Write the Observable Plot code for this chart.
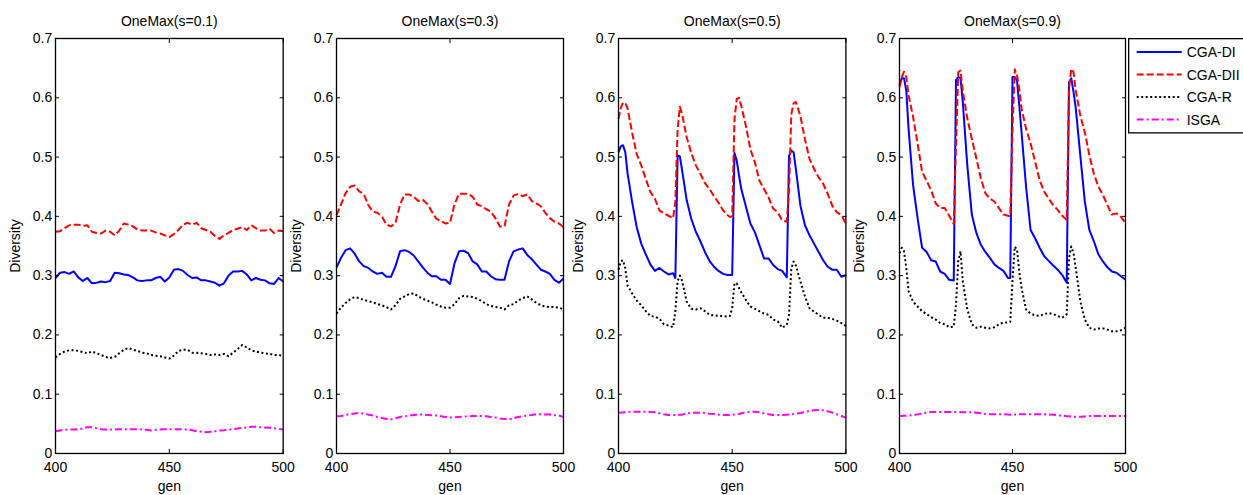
<!DOCTYPE html>
<html>
<head>
<meta charset="utf-8">
<script src="https://cdn.jsdelivr.net/npm/d3@7"></script>
<script src="https://cdn.jsdelivr.net/npm/@observablehq/plot@0.6"></script>
<style>
  html, body { margin: 0; padding: 0; background: #fff; }
  #wrap { position: relative; width: 1243px; height: 495px; overflow: hidden; background: #fff; }
  #wrap > svg, #wrap > figure { position: absolute; top: 0; margin: 0; }
</style>
</head>
<body>
<div id="wrap"></div>
<script>
// ---------- series meta ----------
const seriesNames = ["CGA-DI", "CGA-DII", "CGA-R", "ISGA"];
const seriesColors = ["#0000ff", "#ff0000", "#000000", "#ff00ff"];
const seriesDash = ["none", "7,3", "2,2.5", "7,3,2,3"];

const panelTitles = ["OneMax(s=0.1)", "OneMax(s=0.3)", "OneMax(s=0.5)", "OneMax(s=0.9)"];
const yTicks = [0, 0.1, 0.2, 0.3, 0.4, 0.5, 0.6, 0.7];
const xTicks = [400, 450, 500];
const xLabel = "gen";
const yLabel = "Diversity";

// ---------- generations ----------
const gens12 = [400,402,404,406,408,410,412,414,416,418,420,422,424,426,428,430,432,434,436,438,
  440,442,444,446,448,450,452,454,456,458,460,462,464,466,468,470,472,474,476,478,
  480,482,484,486,488,490,492,494,496,498,500];
const gens34 = [400,401,402,403,404,406,408,410,412,414,416,418,420,422,424,425,426,427,428,
  430,432,434,436,438,440,442,444,446,448,449,450,451,452,453,454,456,458,460,462,464,466,468,470,472,474,
  475,476,477,478,480,482,484,486,488,490,492,494,496,498,500];

// ---------- s = 0.1 ----------
const s01_DI = [.296,.305,.306,.303,.307,.297,.291,.296,.287,.288,
  .290,.289,.291,.305,.304,.302,.301,.297,.292,.291,
  .292,.292,.296,.298,.290,.297,.310,.311,.308,.301,
  .296,.297,.292,.292,.290,.288,.283,.287,.300,.307,
  .307,.308,.302,.292,.296,.293,.292,.287,.286,.296,.290];
const s01_DII = [.374,.375,.380,.385,.386,.386,.384,.385,.374,.372,
  .371,.376,.374,.368,.376,.388,.386,.383,.378,.376,
  .376,.376,.373,.371,.368,.365,.370,.377,.386,.389,
  .386,.389,.380,.377,.374,.367,.362,.368,.372,.377,
  .379,.382,.377,.385,.380,.376,.376,.379,.372,.376,.375];
const s01_R = [.162,.168,.172,.174,.174,.173,.171,.169,.172,.169,
  .166,.163,.161,.163,.169,.175,.178,.175,.173,.170,
  .169,.166,.165,.164,.162,.160,.165,.173,.175,.175,
  .170,.170,.169,.168,.166,.167,.166,.168,.164,.170,
  .176,.183,.179,.174,.172,.170,.169,.168,.166,.166,.165];
const s01_ISGA = [.0376,.0388,.0400,.0404,.0404,.0410,.0420,.0444,.0444,.0427,
  .0410,.0404,.0404,.0404,.0410,.0410,.0410,.0410,.0410,.0404,
  .0400,.0388,.0400,.0404,.0410,.0410,.0410,.0410,.0410,.0404,
  .0393,.0376,.0365,.0360,.0365,.0376,.0388,.0393,.0404,.0410,
  .0420,.0433,.0438,.0450,.0450,.0444,.0438,.0433,.0427,.0416,.0404];

// ---------- s = 0.3 ----------
const s03_DI = [.314,.330,.343,.346,.337,.324,.316,.313,.307,.303,
  .305,.298,.298,.316,.341,.343,.340,.334,.324,.314,
  .305,.299,.299,.293,.293,.286,.321,.341,.342,.338,
  .324,.319,.307,.307,.299,.294,.293,.293,.324,.341,
  .344,.346,.335,.328,.319,.310,.307,.303,.293,.288,.295];
const s03_DII = [.402,.420,.439,.450,.452,.442,.438,.419,.408,.406,
  .400,.386,.383,.389,.420,.437,.437,.433,.426,.428,
  .421,.408,.396,.392,.388,.389,.421,.438,.438,.438,
  .433,.420,.417,.412,.408,.397,.383,.383,.420,.435,
  .438,.434,.437,.426,.422,.417,.406,.397,.391,.388,.382];
const s03_R = [.236,.246,.254,.260,.264,.262,.259,.257,.255,.252,
  .250,.247,.243,.250,.261,.265,.269,.270,.265,.261,
  .258,.255,.251,.248,.246,.246,.252,.262,.266,.265,
  .264,.261,.257,.252,.249,.247,.246,.243,.250,.252,
  .258,.262,.265,.260,.254,.250,.248,.247,.247,.246,.243];
const s03_ISGA = [.0628,.0634,.0650,.0662,.0673,.0684,.0673,.0656,.0640,.0617,
  .0600,.0583,.0577,.0594,.0617,.0628,.0640,.0650,.0662,.0656,
  .0650,.0645,.0640,.0628,.0617,.0606,.0611,.0617,.0622,.0628,
  .0634,.0634,.0634,.0628,.0617,.0606,.0589,.0583,.0577,.0594,
  .0617,.0628,.0640,.0650,.0662,.0662,.0656,.0656,.0645,.0640,.0617];

// ---------- s = 0.5 ----------
const s05_DI = [.508,.518,.520,.508,.472,
  .424,.382,.354,.336,.319,.308,.313,.307,.302,.304,
  .296,.503,.501,.477,
  .427,.396,.374,.358,.340,.325,.315,.308,.303,.301,
  .301,.301,.507,.494,.469,.446,
  .417,.388,.373,.351,.329,.329,.318,.311,.308,.297,
  .502,.511,.508,.480,
  .418,.385,.368,.354,.340,.326,.315,.310,.310,.298,.301];
const s05_DII = [.564,.583,.592,.591,.582,
  .541,.505,.486,.463,.441,.430,.410,.405,.401,.397,
  .424,.547,.585,.572,
  .533,.507,.486,.472,.456,.446,.434,.423,.410,.402,
  .399,.400,.564,.598,.600,.586,
  .553,.513,.491,.460,.446,.432,.413,.407,.393,.391,
  .446,.572,.591,.593,
  .569,.530,.497,.480,.466,.455,.438,.418,.407,.402,.388];
const s05_R = [.310,.324,.326,.312,.283,
  .270,.258,.250,.240,.232,.231,.227,.218,.216,.213,
  .240,.291,.300,.291,
  .256,.244,.243,.245,.240,.234,.233,.232,.232,.231,
  .232,.245,.287,.287,.279,.272,
  .259,.248,.244,.240,.236,.234,.226,.223,.212,.217,
  .234,.312,.324,.317,
  .290,.265,.245,.239,.234,.229,.229,.227,.224,.220,.215];
const s05_ISGA = [.0689,.0690,.0692,.0695,.0698,
  .0706,.0706,.0706,.0706,.0701,.0695,.0678,.0661,.0650,.0650,
  .0650,.0650,.0652,.0655,
  .0678,.0684,.0689,.0689,.0684,.0672,.0667,.0655,.0650,.0650,
  .0650,.0655,.0658,.0661,.0665,.0678,
  .0695,.0701,.0706,.0695,.0678,.0661,.0650,.0650,.0650,.0655,
  .0658,.0661,.0665,.0672,
  .0684,.0701,.0718,.0729,.0734,.0729,.0712,.0689,.0661,.0633,.0605];

// ---------- s = 0.9 ----------
const s09_DI = [.621,.633,.633,.612,.548,
  .453,.397,.347,.340,.326,.324,.307,.303,.293,.292,
  .630,.635,.633,.593,
  .486,.403,.372,.352,.340,.330,.319,.313,.308,.296,
  .296,.635,.635,.629,.587,.542,
  .450,.377,.363,.347,.333,.325,.317,.310,.301,.288,
  .626,.633,.610,.582,
  .503,.425,.377,.358,.336,.324,.314,.307,.305,.299,.293];
const s09_DII = [.618,.635,.644,.635,.604,
  .568,.523,.475,.460,.444,.422,.414,.414,.401,.387,
  .520,.643,.646,.612,
  .565,.531,.498,.464,.439,.430,.425,.414,.403,.401,
  .400,.548,.648,.638,.615,.582,
  .548,.523,.492,.461,.442,.430,.419,.411,.401,.394,
  .615,.649,.643,.612,
  .570,.542,.503,.472,.450,.436,.419,.403,.405,.399,.389];
const s09_R = [.338,.347,.341,.313,.274,
  .256,.248,.240,.235,.230,.226,.220,.218,.213,.214,
  .251,.324,.341,.291,
  .243,.218,.212,.214,.212,.211,.213,.218,.221,.221,
  .222,.291,.349,.344,.307,.279,
  .243,.236,.233,.232,.235,.237,.235,.232,.229,.235,
  .330,.349,.338,.313,
  .257,.226,.212,.209,.211,.211,.209,.206,.206,.208,.212];
const s09_ISGA = [.0633,.0633,.0635,.0636,.0640,
  .0645,.0660,.0675,.0690,.0698,.0701,.0701,.0701,.0701,.0701,
  .0700,.0698,.0697,.0695,
  .0695,.0695,.0688,.0678,.0668,.0661,.0661,.0661,.0661,.0656,
  .0655,.0655,.0656,.0658,.0660,.0661,
  .0661,.0661,.0661,.0661,.0661,.0658,.0652,.0645,.0638,.0630,
  .0627,.0624,.0621,.0620,
  .0618,.0625,.0633,.0633,.0633,.0633,.0633,.0633,.0633,.0633,.0633];

const panels = [
  {title: panelTitles[0], gens: gens12, values: [s01_DI, s01_DII, s01_R, s01_ISGA]},
  {title: panelTitles[1], gens: gens12, values: [s03_DI, s03_DII, s03_R, s03_ISGA]},
  {title: panelTitles[2], gens: gens34, values: [s05_DI, s05_DII, s05_R, s05_ISGA]},
  {title: panelTitles[3], gens: gens34, values: [s09_DI, s09_DII, s09_R, s09_ISGA]}
];

// ---------- layout (pixel geometry of each axes box) ----------
const boxes = [
  {left: 55, right: 282.7},
  {left: 335.7, right: 562.7},
  {left: 618.3, right: 845.7},
  {left: 899, right: 1125}
];
const ML = 56, MR = 6, MT = 38, MB = 42, H = 495;
const FONT = "'Liberation Sans', Arial, Helvetica, sans-serif";

const wrap = document.getElementById("wrap");

panels.forEach((p, i) => {
  const b = boxes[i];
  const rows = [];
  p.values.forEach((vals, s) => {
    vals.forEach((v, k) => rows.push({series: s, gen: p.gens[k], value: v}));
  });
  const lineMarks = seriesNames.map((name, s) =>
    Plot.line(rows.filter(r => r.series === s), {
      x: "gen", y: "value",
      stroke: seriesColors[s],
      strokeWidth: 2,
      strokeDasharray: seriesDash[s] === "none" ? null : seriesDash[s],
      strokeLinecap: "butt",
      strokeLinejoin: "round"
    })
  );
  const chart = Plot.plot({
    width: ML + (b.right - b.left) + MR,
    height: H,
    marginLeft: ML, marginRight: MR, marginTop: MT, marginBottom: MB,
    x: {domain: [400, 500]},
    y: {domain: [0, 0.7]},
    style: {fontSize: "14px", fontFamily: FONT, color: "#000", background: "transparent", overflow: "visible"},
    marks: [
      ...lineMarks,
      Plot.frame({stroke: "#000", strokeWidth: 1.3}),
      Plot.axisX({anchor: "bottom", ticks: xTicks, tickSize: -4, tickPadding: 12.5, tickFormat: d => String(d), label: null, stroke: "#000"}),
      Plot.axisX({anchor: "top", ticks: xTicks, tickSize: -4, tickFormat: () => "", label: null, stroke: "#000"}),
      Plot.axisY({anchor: "left", ticks: yTicks, tickSize: -4, tickPadding: 7.3, tickFormat: d => String(d), label: null, stroke: "#000"}),
      Plot.axisY({anchor: "right", ticks: yTicks, tickSize: -4, tickFormat: () => "", label: null, stroke: "#000"}),
      Plot.text([p.title], {text: d => d, frameAnchor: "top", lineAnchor: "middle", textAnchor: "middle", dy: -17, fontSize: 14, fill: "#000"}),
      Plot.text([xLabel], {text: d => d, frameAnchor: "bottom", lineAnchor: "middle", textAnchor: "middle", dy: 33, fontSize: 14, fill: "#000"}),
      Plot.text([yLabel], {text: d => d, frameAnchor: "left", lineAnchor: "middle", textAnchor: "middle", dx: -40, rotate: -90, fontSize: 14, fill: "#000"})
    ]
  });
  chart.style.position = "absolute";
  chart.style.left = (b.left - ML) + "px";
  chart.style.top = "0px";
  wrap.appendChild(chart);
});

// ---------- legend ----------
const legendBox = {left: 1128, top: 37.7, width: 140, height: 95.5};
const legend = d3.select(wrap).append("svg")
  .attr("width", 1243 - legendBox.left)
  .attr("height", legendBox.height + 2)
  .style("position", "absolute")
  .style("left", legendBox.left + "px")
  .style("top", legendBox.top + "px")
  .style("overflow", "hidden");
legend.append("rect")
  .attr("x", 0.65).attr("y", 0.65)
  .attr("width", legendBox.width).attr("height", legendBox.height - 1.3)
  .attr("fill", "#fff").attr("stroke", "#000").attr("stroke-width", 1.3);
const rowY = d3.scaleLinear().domain([0, 3]).range([14, 81.6]);
const item = legend.selectAll("g.item").data(seriesNames).join("g")
  .attr("class", "item")
  .attr("transform", (d, i) => `translate(0,${rowY(i)})`);
item.append("line")
  .attr("x1", 8.7).attr("x2", 53.7).attr("y1", 0).attr("y2", 0)
  .attr("stroke", (d, i) => seriesColors[i])
  .attr("stroke-width", 2)
  .attr("stroke-dasharray", (d, i) => seriesDash[i] === "none" ? null : seriesDash[i]);
item.append("text")
  .attr("x", 58.7).attr("y", 5)
  .attr("font-family", FONT).attr("font-size", 14).attr("fill", "#000")
  .text(d => d);
</script>
</body>
</html>
